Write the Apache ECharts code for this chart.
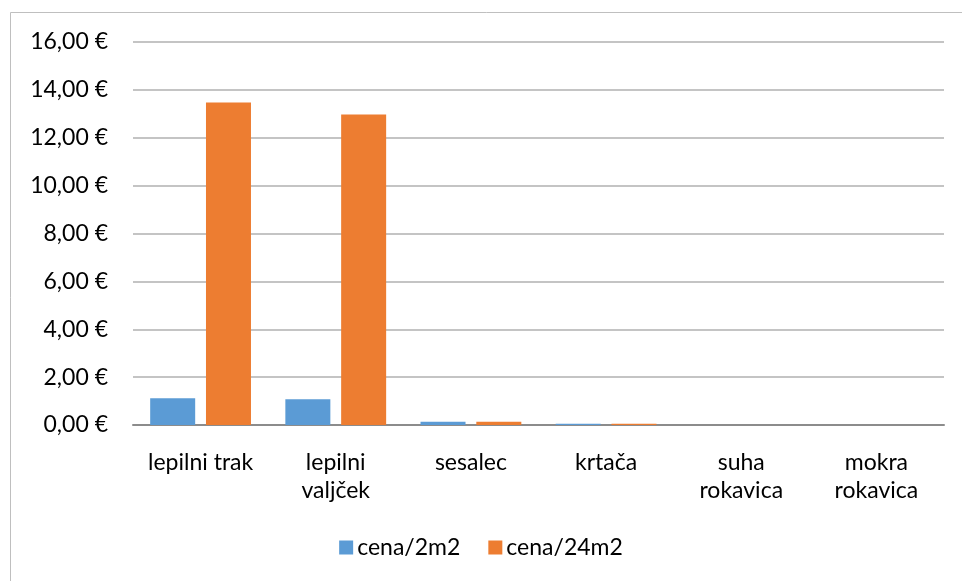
<!DOCTYPE html>
<html>
<head>
<meta charset="utf-8">
<script src="https://cdn.jsdelivr.net/npm/echarts@6/dist/echarts.min.js"></script>
<style>
html,body{margin:0;padding:0;background:#fff;}
#chart{width:962px;height:581px;}
</style>
</head>
<body>
<div id="chart"></div>
<script>
const categories = ['lepilni trak', 'lepilni\nvaljček', 'sesalec', 'krtača', 'suha\nrokavica', 'mokra\nrokavica'];
const seriesNames = ['cena/2m2', 'cena/24m2'];
const cena2m2 = [1.12, 1.08, 0.14, 0.05, 0, 0];
const cena24m2 = [13.47, 12.97, 0.14, 0.05, 0, 0];
const yTicks = [0, 2, 4, 6, 8, 10, 12, 14, 16];

const FONT = 'Lato, "Open Sans", sans-serif';
const chart = echarts.init(document.getElementById('chart'), null, {renderer: 'canvas'});
chart.setOption({
  animation: false,
  backgroundColor: '#fff',
  textStyle: {fontFamily: FONT},
  graphic: [{
    type: 'rect',
    shape: {x: 10.5, y: 12.5, width: 1200, height: 1200},
    style: {fill: 'none', stroke: '#bfbfbf', lineWidth: 1},
    silent: true
  }],
  grid: {left: 133, right: 18, top: 42, bottom: 156, containLabel: false},
  legend: {
    data: seriesNames,
    bottom: 17,
    left: 'center',
    itemWidth: 14,
    itemHeight: 14,
    itemGap: 28,
    icon: 'rect',
    textStyle: {fontSize: 23, color: '#000', fontFamily: FONT, padding: [0, 0, 0, -1]}
  },
  xAxis: {
    type: 'category',
    data: categories,
    axisLine: {lineStyle: {color: '#8c8c8c', width: 2}},
    axisTick: {show: false},
    axisLabel: {color: '#000', fontSize: 23, fontFamily: FONT, margin: 24, lineHeight: 28, interval: 0}
  },
  yAxis: {
    type: 'value',
    min: yTicks[0],
    max: yTicks[yTicks.length - 1],
    interval: yTicks[1] - yTicks[0],
    axisLine: {show: false},
    axisTick: {show: false},
    splitLine: {lineStyle: {color: '#b0b0b0', width: 1.5}},
    axisLabel: {
      color: '#000', fontSize: 23, fontFamily: FONT, margin: 25,
      formatter: v => v.toFixed(2).replace('.', ',') + ' €'
    }
  },
  series: [
    {name: seriesNames[0], type: 'bar', data: cena2m2, barWidth: 45, barGap: '24%',
     itemStyle: {color: '#5B9BD5'}},
    {name: seriesNames[1], type: 'bar', data: cena24m2, barWidth: 45, barGap: '24%',
     itemStyle: {color: '#ED7D31'}}
  ]
});
</script>
</body>
</html>
